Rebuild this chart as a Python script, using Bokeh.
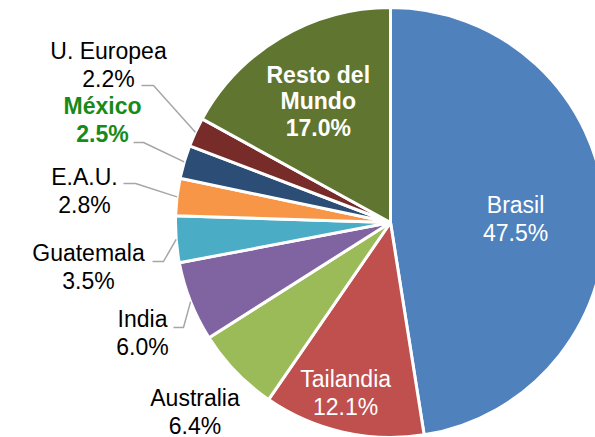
import numpy as np
from bokeh.plotting import figure
from bokeh.models import Range1d
from bokeh.core.properties import value
from bokeh.embed import file_html
from bokeh.resources import INLINE

# ---- data ----
countries = ["Brasil", "Tailandia", "Australia", "India", "Guatemala",
             "E.A.U.", "México", "U. Europea", "Resto del Mundo"]
shares = [47.5, 12.1, 6.4, 6.0, 3.5, 2.8, 2.5, 2.2, 17.0]
colors = ["#4F81BD", "#C0504D", "#9BBB59", "#8064A2", "#4BACC6",
          "#F79646", "#2C4D75", "#772C2A", "#5F7530"]

# ---- layout ----
W, H = 595, 437
CX, CY, R = 390, 222, 215          # pixel centre / radius
FONT = "Liberation Sans"
FS = "23px"

def py(y):  # pixel y (top-down) -> data y
    return H - y

p = figure(width=W, height=H, x_range=Range1d(0, W), y_range=Range1d(0, H),
           output_backend="svg", toolbar_location=None, min_border=0)
p.axis.visible = False
p.grid.visible = False
p.outline_line_color = None
p.background_fill_color = "white"

vals = np.array(shares)
cum = np.concatenate([[0], np.cumsum(vals)]) / vals.sum()
start = np.radians(90 - cum[:-1] * 360)
end = np.radians(90 - cum[1:] * 360)
mid = (start + end) / 2

p.wedge(x=CX, y=py(CY), radius=R, start_angle=start, end_angle=end,
        direction="clock", fill_color=colors,
        line_color="white", line_width=3)

def lines(name, pct, x, yc, color, bold, spacing=28):
    parts = name.split("\n") + [pct]
    n = len(parts)
    ys = [yc + (i - (n - 1) / 2) * spacing for i in range(n)]
    p.text(x=[x] * n, y=[py(y) for y in ys], text=parts,
           text_align="center", text_baseline="middle",
           text_font=value(FONT), text_font_size=FS,
           text_font_style="bold" if bold else "normal", text_color=color)

pct = [f"{v:.1f}%" for v in shares]

# inside labels: (radial fraction, angle shift in degrees) along mid angle
inside = {0: (0.582, -2.7), 1: (0.818, -2.0)}
for i, (f, da) in inside.items():
    a = mid[i] + np.radians(da)
    x = CX + f * R * np.cos(a)
    y = CY - f * R * np.sin(a)
    lines(countries[i], pct[i], x, y, "white", False)
# Resto del Mundo
i = 8
x = CX + 0.66 * R * np.cos(mid[i]) ; y = CY - 0.66 * R * np.sin(mid[i])
lines("Resto del\nMundo", pct[i], x, y + 1, "white", True, spacing=26.5)

# outside labels: (label centre x, centre y, elbow end x, elbow x, elbow y)
outside = {
    7: (108, 64, 141, 153, 85),
    6: (102, 119, 133, 143, 142),
    5: (84, 190, 123, 135, 183),
    4: (88, 266.5, 152, 163, 261),
    3: (142, 332, 173, 183, 327),
    2: (194.5, 411, None, None, None),
}
for i, (lx, ly, ex, bx, by) in outside.items():
    green = countries[i] == "México"
    lines(countries[i], pct[i], lx, ly, "#178A17" if green else "black", green)
    if ex is not None:
        px_ = CX + R * np.cos(mid[i])
        py_ = CY - R * np.sin(mid[i])
        p.line(x=[ex, bx, px_], y=[py(by), py(by), py(py_)],
               line_color="#A6A6A6", line_width=1.5)

open("out.html", "w").write(file_html(p, INLINE))
